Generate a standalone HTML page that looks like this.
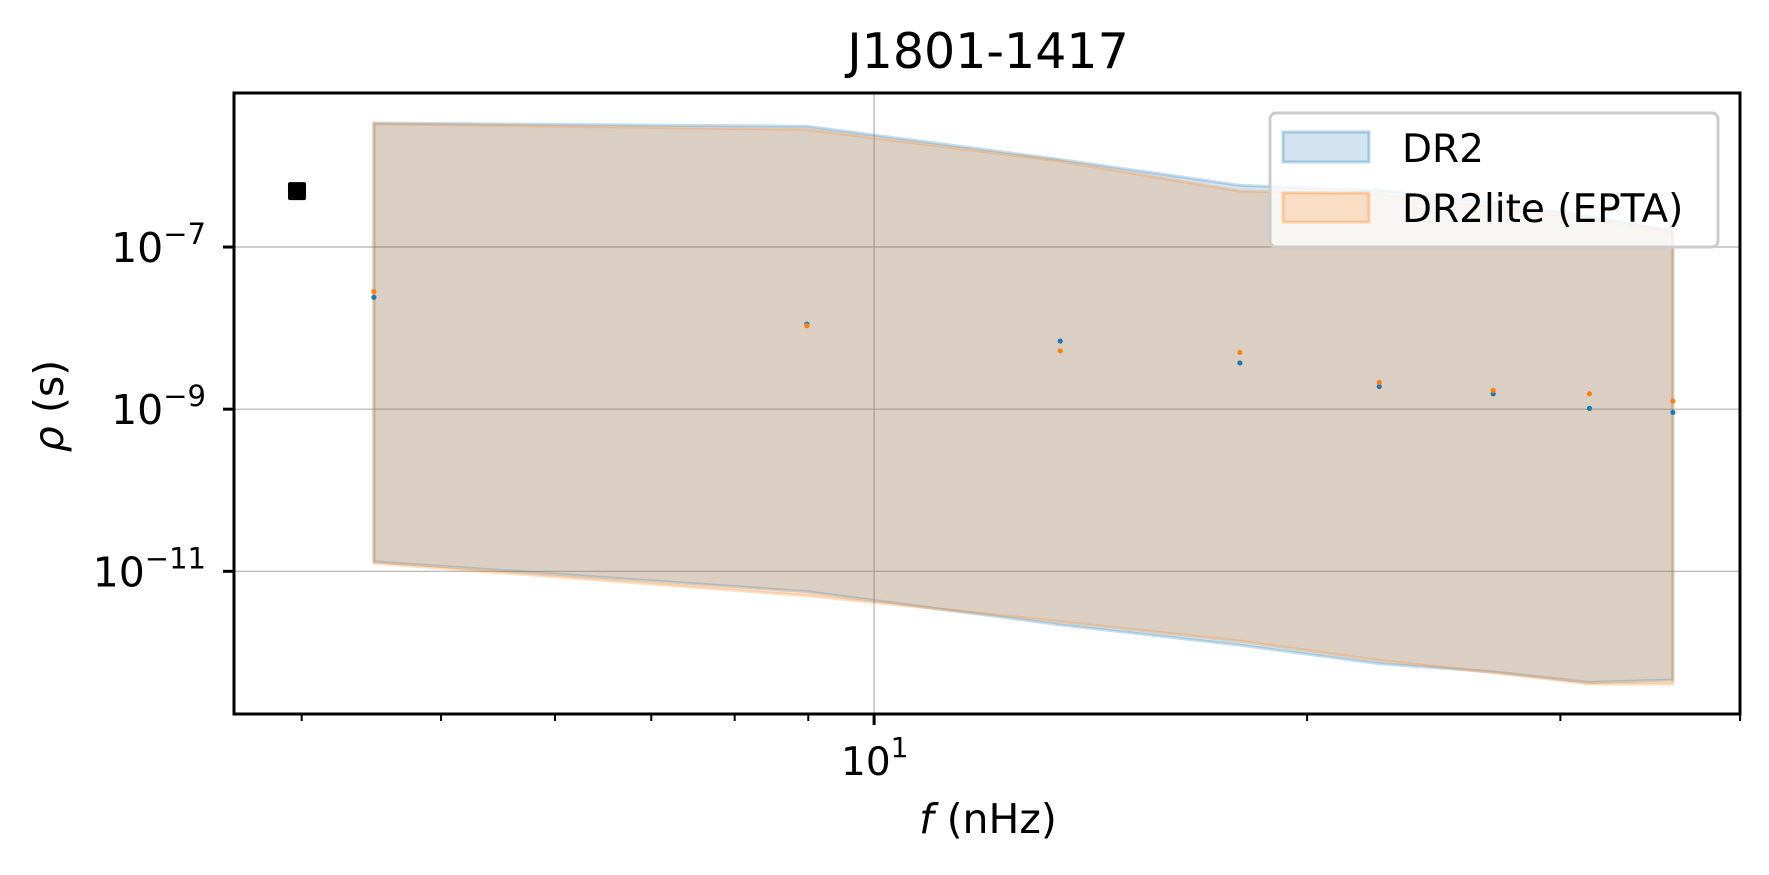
<!DOCTYPE html>
<html><head><meta charset="utf-8"><style>
html,body{margin:0;padding:0;background:#fff;}
svg text{font-family:"DejaVu Sans","Liberation Sans",sans-serif;fill:#000;}
</style></head><body>
<svg id="chart" width="1769" height="870" viewBox="0 0 1769 870" xmlns="http://www.w3.org/2000/svg">
<text x="988" y="68" font-size="49" text-anchor="middle">J1801-1417</text>
<g id="grid"></g>
<g id="bands"></g>
<g id="points"></g>
<g id="axes"></g>
<text x="988" y="833" font-size="41" text-anchor="middle"><tspan font-style="italic">f</tspan> (nHz)</text>
<text transform="translate(63,406) rotate(-90)" font-size="41" text-anchor="middle"><tspan font-style="italic">ρ</tspan> (s)</text>
<g>
<rect x="1270" y="113" width="448" height="134" rx="6" fill="#fff" fill-opacity="0.8" stroke="#ccc" stroke-width="3"/>
<rect x="1283" y="132" width="86" height="30" fill="#1f77b4" fill-opacity="0.2" stroke="#1f77b4" stroke-opacity="0.3" stroke-width="3"/>
<text x="1402" y="162" font-size="39">DR2</text>
<rect x="1283" y="193" width="86" height="29" fill="#ff7f0e" fill-opacity="0.2" stroke="#ff7f0e" stroke-opacity="0.3" stroke-width="3"/>
<text x="1402" y="222" font-size="39">DR2lite (EPTA)</text>
</g>
</svg>
<script>
const freqs=[4.49,8.98,13.47,17.96,22.45,26.94,31.43,35.92];
const dr2Log=[-7.62,-7.95,-8.16,-8.43,-8.72,-8.81,-8.99,-9.04];
const liteLog=[-7.55,-7.97,-8.28,-8.30,-8.67,-8.77,-8.81,-8.90];
const dr2UpperLog=[-5.47,-5.51,-5.92,-6.24,-6.30,-6.45,-6.62,-6.80];
const dr2LowerLog=[-10.88,-11.25,-11.66,-11.91,-12.14,-12.24,-12.37,-12.34];
const liteUpperLog=[-5.48,-5.55,-5.94,-6.31,-6.35,-6.50,-6.66,-6.82];
const liteLowerLog=[-10.90,-11.30,-11.62,-11.86,-12.10,-12.25,-12.39,-12.39];
const markerFreq=[3.97];
const markerLog=[-6.31];
const yTickExp=[-7,-9,-11];
const xMinorTicks=[4,5,6,7,8,9,20,30,40];
const NS='http://www.w3.org/2000/svg';
const L=234,R=1740,T=93,B=714;
const xMin=0.555,xMax=1.602,yMin=-12.76,yMax=-5.10;
function X(f){return L+(Math.log10(f)-xMin)/(xMax-xMin)*(R-L);}
function Y(l){return B-(l-yMin)/(yMax-yMin)*(B-T);}
function mk(tag,attrs,parent){const e=document.createElementNS(NS,tag);for(const k in attrs)e.setAttribute(k,attrs[k]);parent.appendChild(e);return e;}
const grid=document.getElementById('grid'),bands=document.getElementById('bands'),pts=document.getElementById('points'),axes=document.getElementById('axes');
yTickExp.forEach(e=>{const y=Y(e);
 const g=mk('line',{x1:L,x2:R,y1:y,y2:y,stroke:'#b0b0b0','stroke-width':1.2},grid);
 
 
 const t=mk('line',{x1:L-11,x2:L,y1:y,y2:y,stroke:'#000','stroke-width':3},axes);
 
 
 const tx=mk('text',{x:206,y:y+15,'font-size':41,'text-anchor':'end'},axes);
 
 
 tx.textContent='10';
 const sp=mk('tspan',{dy:-18,'font-size':29},tx);sp.textContent='−'+(-e);
});
{const x=X(10);
 const g=mk('line',{x1:x,x2:x,y1:T,y2:B,stroke:'#b0b0b0','stroke-width':1.2},grid);
 
 
 const t=mk('line',{x1:x,x2:x,y1:B,y2:B+11,stroke:'#000','stroke-width':3},axes);
 
 
 const tx=mk('text',{x:841,y:775,'font-size':39},axes);
 
 
 tx.textContent='10';
 const sp=mk('tspan',{dy:-18,'font-size':28},tx);sp.textContent='1';
}
xMinorTicks.forEach(f=>{const x=X(f);
 const t=mk('line',{x1:x,x2:x,y1:B,y2:B+7,stroke:'#000','stroke-width':2},axes);
 
 
});
function band(up,lo,color,name){
 let d='M'+freqs.map((f,i)=>X(f)+','+Y(up[i])).join(' L');
 d+=' L'+freqs.slice().reverse().map((f,j)=>{const i=freqs.length-1-j;return X(f)+','+Y(lo[i]);}).join(' L')+' Z';
 const p=mk('path',{d:d,fill:color,'fill-opacity':0.2,stroke:color,'stroke-opacity':0.25,'stroke-width':3},bands);
 
 
}
band(dr2UpperLog,dr2LowerLog,'#1f77b4','dr2-band');
band(liteUpperLog,liteLowerLog,'#ff7f0e','dr2lite-band');
freqs.forEach((f,i)=>{
 const c=mk('circle',{cx:X(f),cy:Y(dr2Log[i]),r:2.6,fill:'#1f77b4'},pts);
 
 
 const o=mk('circle',{cx:X(f),cy:Y(liteLog[i]),r:2.6,fill:'#ff7f0e'},pts);
 
 
});
markerFreq.forEach((f,i)=>{
 const s=mk('rect',{x:X(f)-9,y:Y(markerLog[i])-9,width:18,height:18,rx:2,fill:'#000'},pts);
 
 
});
const fr=mk('rect',{x:L,y:T,width:R-L,height:B-T,fill:'none',stroke:'#000','stroke-width':3},axes);


</script>
</body></html>
